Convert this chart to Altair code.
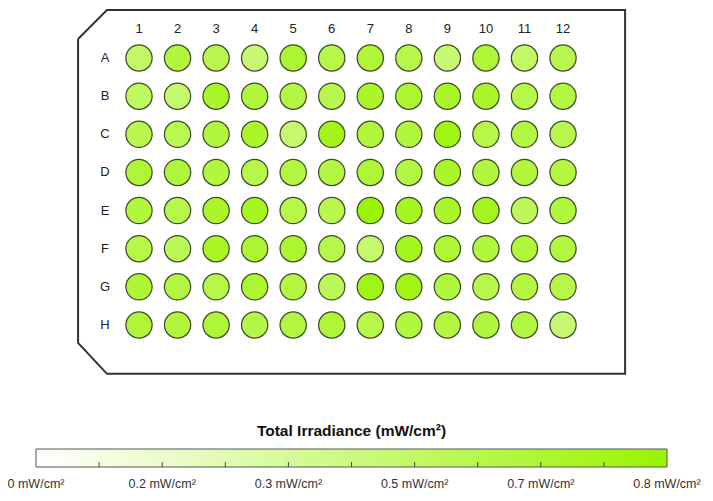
import altair as alt
import pandas as pd

# ---------------- data ----------------
row_labels = ["A", "B", "C", "D", "E", "F", "G", "H"]
col_labels = ["1", "2", "3", "4", "5", "6", "7", "8", "9", "10", "11", "12"]

row_A = [0.50, 0.64, 0.58, 0.45, 0.68, 0.60, 0.66, 0.60, 0.46, 0.66, 0.50, 0.58]
row_B = [0.52, 0.48, 0.70, 0.64, 0.62, 0.58, 0.70, 0.68, 0.70, 0.70, 0.60, 0.62]
row_C = [0.58, 0.57, 0.64, 0.70, 0.47, 0.76, 0.65, 0.64, 0.78, 0.60, 0.62, 0.58]
row_D = [0.66, 0.65, 0.64, 0.59, 0.63, 0.62, 0.66, 0.62, 0.70, 0.64, 0.64, 0.63]
row_E = [0.64, 0.59, 0.70, 0.74, 0.60, 0.58, 0.82, 0.74, 0.70, 0.74, 0.55, 0.64]
row_F = [0.60, 0.55, 0.72, 0.68, 0.68, 0.59, 0.48, 0.74, 0.66, 0.64, 0.65, 0.63]
row_G = [0.67, 0.62, 0.60, 0.68, 0.63, 0.55, 0.78, 0.76, 0.64, 0.60, 0.62, 0.60]
row_H = [0.65, 0.65, 0.66, 0.61, 0.63, 0.66, 0.60, 0.64, 0.62, 0.64, 0.62, 0.47]
irr_rows = [row_A, row_B, row_C, row_D, row_E, row_F, row_G, row_H]

# plate outline (in well-grid units: column index, row index)
plate_x = [-0.58, 0.17, 13.61, 13.61, 0.17, -0.58, -0.58]
plate_y = [0.50, -0.26, -0.26, 9.28, 9.28, 8.47, 0.50]

# colour bar
cbar_min = 0.0
cbar_max = 0.84
cbar_ticks = [0.084, 0.168, 0.252, 0.336, 0.42, 0.504, 0.588, 0.672, 0.756]
cbar_label_vals = [0.0, 0.168, 0.336, 0.504, 0.672, 0.84]
cbar_label_txt = ["0 mW/cm²", "0.2 mW/cm²", "0.3 mW/cm²", "0.5 mW/cm²", "0.7 mW/cm²", "0.8 mW/cm²"]
cbar_title = "Total Irradiance (mW/cm²)"

LOW = "#ffffff"
HIGH = "#99f400"
FONT = "Liberation Sans"

# ---------------- tables ----------------
recs = []
for ri, vals in enumerate(irr_rows):
    for ci, v in enumerate(vals):
        recs.append({"row": ri + 1, "col": ci + 1, "value": v})
wells = pd.DataFrame(recs)

cols_df = pd.DataFrame({"col": list(range(1, 13)), "label": col_labels})
rows_df = pd.DataFrame({"row": list(range(1, 9)), "label": row_labels})
plate_df = pd.DataFrame({"order": list(range(len(plate_x))), "px": plate_x, "py": plate_y})

xs = alt.Scale(domain=[-2.398, 15.683], nice=False, zero=False)
ys = alt.Scale(domain=[-0.311, 12.405], nice=False, zero=False, reverse=True)

plate = alt.Chart(plate_df).mark_line(color="#333333", strokeWidth=2, strokeJoin="miter").encode(
    x=alt.X("px:Q", scale=xs, axis=None),
    y=alt.Y("py:Q", scale=ys, axis=None),
    order="order:Q",
)

circles = alt.Chart(wells).mark_circle(size=690, opacity=1, stroke="#404a2c", strokeWidth=1.25).encode(
    x=alt.X("col:Q", scale=xs, axis=None),
    y=alt.Y("row:Q", scale=ys, axis=None),
    color=alt.Color("value:Q", scale=alt.Scale(domain=[cbar_min, cbar_max], range=[LOW, HIGH], interpolate="rgb"), legend=None),
)

col_text = alt.Chart(cols_df).mark_text(font=FONT, fontSize=13, color="#222222", baseline="middle").encode(
    x=alt.X("col:Q", scale=xs, axis=None),
    y=alt.value(21),
    text="label:N",
)

row_text = alt.Chart(rows_df).mark_text(font=FONT, fontSize=13, color="#222222", baseline="middle").encode(
    x=alt.value(97),
    y=alt.Y("row:Q", scale=ys, axis=None),
    text="label:N",
)

top = alt.layer(plate, circles, col_text, row_text)

# colour bar
cxs = alt.Scale(domain=[-0.03727, 0.89058], nice=False, zero=False)
bar_df = pd.DataFrame({"lo": [cbar_min], "hi": [cbar_max], "mid": [(cbar_min + cbar_max) / 2], "title": [cbar_title]})
tick_df = pd.DataFrame({"v": cbar_ticks})
lab_df = pd.DataFrame({"v": cbar_label_vals, "t": cbar_label_txt})

grad = alt.LinearGradient(
    gradient="linear",
    stops=[alt.GradientStop(color=LOW, offset=0), alt.GradientStop(color=HIGH, offset=1)],
    x1=0, x2=1, y1=0, y2=0,
)

bar = alt.Chart(bar_df).mark_rect(fill=grad, stroke="#555555", strokeWidth=1).encode(
    x=alt.X("lo:Q", scale=cxs, axis=None),
    x2="hi:Q",
    y=alt.value(441),
    y2=alt.value(459),
)

ticks = alt.Chart(tick_df).mark_rule(color="#444444", strokeWidth=1).encode(
    x=alt.X("v:Q", scale=cxs, axis=None),
    y=alt.value(454),
    y2=alt.value(459),
)

labels = alt.Chart(lab_df).mark_text(font=FONT, fontSize=12.5, color="#333333", baseline="middle").encode(
    x=alt.X("v:Q", scale=cxs, axis=None),
    y=alt.value(476),
    text="t:N",
)

title = alt.Chart(bar_df).mark_text(font=FONT, fontSize=15.5, fontWeight="bold", color="#111111", baseline="middle").encode(
    x=alt.X("mid:Q", scale=cxs, axis=None),
    y=alt.value(423),
    text="title:N",
)

bottom = alt.layer(bar, ticks, labels, title)

chart = alt.layer(top, bottom).resolve_scale(x="independent", y="independent").properties(
    width=697, height=485, padding=0, autosize=alt.AutoSizeParams(type="none")
).configure_view(stroke=None)

chart.save("out.html", embed_options={"renderer": "svg", "actions": False})
